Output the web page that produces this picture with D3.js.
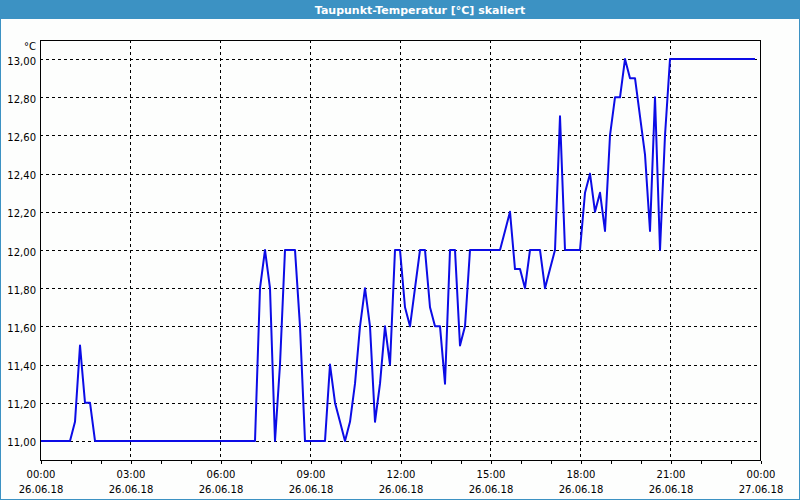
<!DOCTYPE html>
<html>
<head>
<meta charset="utf-8">
<script src="https://cdn.jsdelivr.net/npm/d3@7"></script>
<style>
  html, body { margin: 0; padding: 0; background: #ffffff; }
  svg { display: block; }
  text { font-family: "DejaVu Sans", Verdana, sans-serif; }
</style>
</head>
<body>
<svg id="chart" width="800" height="500"></svg>
<script>
// ---- Data ----
const chartTitle = "Taupunkt-Temperatur [°C] skaliert";
const unitLabel = "°C";
const startTime = "2018-06-26T00:00:00";
const endTime = "2018-06-27T00:00:00";
const stepMinutes = 10;
// dew point readings, one every 10 minutes from 00:00 to 23:50
const values = [
  11.0, 11.0, 11.0, 11.0, 11.0, 11.0, 11.0, 11.1, 11.5, 11.2,
  11.2, 11.0, 11.0, 11.0, 11.0, 11.0, 11.0, 11.0, 11.0, 11.0,
  11.0, 11.0, 11.0, 11.0, 11.0, 11.0, 11.0, 11.0, 11.0, 11.0,
  11.0, 11.0, 11.0, 11.0, 11.0, 11.0, 11.0, 11.0, 11.0, 11.0,
  11.0, 11.0, 11.0, 11.0, 11.8, 12.0, 11.8, 11.0, 11.4, 12.0,
  12.0, 12.0, 11.6, 11.0, 11.0, 11.0, 11.0, 11.0, 11.4, 11.2,
  11.1, 11.0, 11.1, 11.3, 11.6, 11.8, 11.6, 11.1, 11.3, 11.6,
  11.4, 12.0, 12.0, 11.7, 11.6, 11.8, 12.0, 12.0, 11.7, 11.6,
  11.6, 11.3, 12.0, 12.0, 11.5, 11.6, 12.0, 12.0, 12.0, 12.0,
  12.0, 12.0, 12.0, 12.1, 12.2, 11.9, 11.9, 11.8, 12.0, 12.0,
  12.0, 11.8, 11.9, 12.0, 12.7, 12.0, 12.0, 12.0, 12.0, 12.3,
  12.4, 12.2, 12.3, 12.1, 12.6, 12.8, 12.8, 13.0, 12.9, 12.9,
  12.7, 12.5, 12.1, 12.8, 12.0, 12.6, 13.0, 13.0, 13.0, 13.0,
  13.0, 13.0, 13.0, 13.0, 13.0, 13.0, 13.0, 13.0, 13.0, 13.0,
  13.0, 13.0, 13.0, 13.0
];
const yTickValues = [11.0, 11.2, 11.4, 11.6, 11.8, 12.0, 12.2, 12.4, 12.6, 12.8, 13.0];
const yDomain = [10.9, 13.1];

// ---- Layout ----
const W = 800, H = 500;
const plot = { left: 40, top: 40, right: 760, bottom: 460 };
const titleBarH = 19;
const frameColor = "#3c92c3";
const lineColor = "#0c0ce6";

const svg = d3.select("#chart");

// background + window frame
svg.append("rect").attr("x", 0).attr("y", 0).attr("width", W).attr("height", H).attr("fill", "#fdfefd");
svg.append("rect").attr("x", 0).attr("y", 0).attr("width", W).attr("height", titleBarH).attr("fill", frameColor);
svg.append("rect").attr("x", 0.5).attr("y", 0.5).attr("width", W - 1).attr("height", H - 1)
  .attr("fill", "none").attr("stroke", frameColor).attr("stroke-width", 1);
svg.append("text").attr("x", 420).attr("y", 14)
  .attr("text-anchor", "middle").attr("fill", "#ffffff")
  .attr("font-size", "11px").attr("font-weight", "bold")
  .text(chartTitle);

// scales
const parse = d3.isoParse;
const t0 = parse(startTime), t1 = parse(endTime);
const x = d3.scaleTime().domain([t0, t1]).range([plot.left, plot.right]);
const y = d3.scaleLinear().domain(yDomain).range([plot.bottom, plot.top]);

const data = values.map((v, i) => ({ t: d3.timeMinute.offset(t0, i * stepMinutes), v }));

const locale = d3.formatLocale({ decimal: ",", thousands: ".", grouping: [3], currency: ["", "€"] });
const yFmt = locale.format(".2f");

// horizontal grid
svg.append("g").selectAll("line").data(yTickValues).join("line")
  .attr("x1", plot.left).attr("x2", plot.right)
  .attr("y1", d => Math.round(y(d)) + 0.5).attr("y2", d => Math.round(y(d)) + 0.5)
  .attr("stroke", "#000").attr("stroke-width", 1).attr("stroke-dasharray", "3,3")
  .attr("shape-rendering", "crispEdges");

// vertical grid (every 3 hours, interior)
const majorTicks = d3.timeHour.every(3).range(t0, d3.timeMinute.offset(t1, 1));
const interior = majorTicks.filter(d => +d !== +t0 && +d !== +t1);
svg.append("g").selectAll("line").data(interior).join("line")
  .attr("x1", d => Math.round(x(d)) + 0.5).attr("x2", d => Math.round(x(d)) + 0.5)
  .attr("y1", plot.top).attr("y2", plot.bottom)
  .attr("stroke", "#000").attr("stroke-width", 1).attr("stroke-dasharray", "3,3")
  .attr("shape-rendering", "crispEdges");

// x axis: minor hourly ticks
const xMinor = d3.axisBottom(x).ticks(d3.timeHour.every(1)).tickSize(3).tickFormat("");
const gMinor = svg.append("g").attr("transform", `translate(0.5,${plot.bottom + 0.5})`).call(xMinor);
gMinor.select(".domain").remove();
gMinor.selectAll("line").attr("shape-rendering", "crispEdges");

// x axis: major labels
const xMajor = d3.axisBottom(x).tickValues(majorTicks).tickSize(3).tickPadding(6)
  .tickFormat(d3.timeFormat("%H:%M"));
const gMajor = svg.append("g").attr("transform", `translate(0.5,${plot.bottom + 0.5})`).call(xMajor);
gMajor.select(".domain").remove();
gMajor.selectAll("line").attr("shape-rendering", "crispEdges");
gMajor.selectAll("text")
  .attr("font-family", "DejaVu Sans").attr("font-size", "10px").attr("fill", "#000")
  .each(function (d) {
    const t = d3.select(this);
    t.text(null);
    t.append("tspan").attr("x", 0).attr("dy", "0.71em").text(d3.timeFormat("%H:%M")(d));
    t.append("tspan").attr("x", 0).attr("dy", "1.5em").text(d3.timeFormat("%d.%m.%y")(d));
  })
  .attr("y", 10).attr("dy", null);

// y axis labels
const yAxis = d3.axisLeft(y).tickValues(yTickValues).tickSize(0).tickPadding(4).tickFormat(yFmt);
const gY = svg.append("g").attr("transform", `translate(${plot.left},0.5)`).call(yAxis);
gY.select(".domain").remove();
gY.selectAll("text").attr("font-family", "DejaVu Sans").attr("font-size", "10px").attr("fill", "#000").attr("dy", "0.45em");

svg.append("text").attr("x", 36).attr("y", 50).attr("text-anchor", "end")
  .attr("font-size", "10px").attr("fill", "#000").text(unitLabel);

// data line
const line = d3.line().x(d => x(d.t)).y(d => y(d.v));
svg.append("path").datum(data)
  .attr("d", line)
  .attr("fill", "none").attr("stroke", lineColor).attr("stroke-width", 2)
  .attr("stroke-linejoin", "round");

// plot frame
svg.append("rect").attr("x", plot.left + 0.5).attr("y", plot.top + 0.5)
  .attr("width", plot.right - plot.left).attr("height", plot.bottom - plot.top)
  .attr("fill", "none").attr("stroke", "#000").attr("stroke-width", 1)
  .attr("shape-rendering", "crispEdges");
</script>
</body>
</html>
